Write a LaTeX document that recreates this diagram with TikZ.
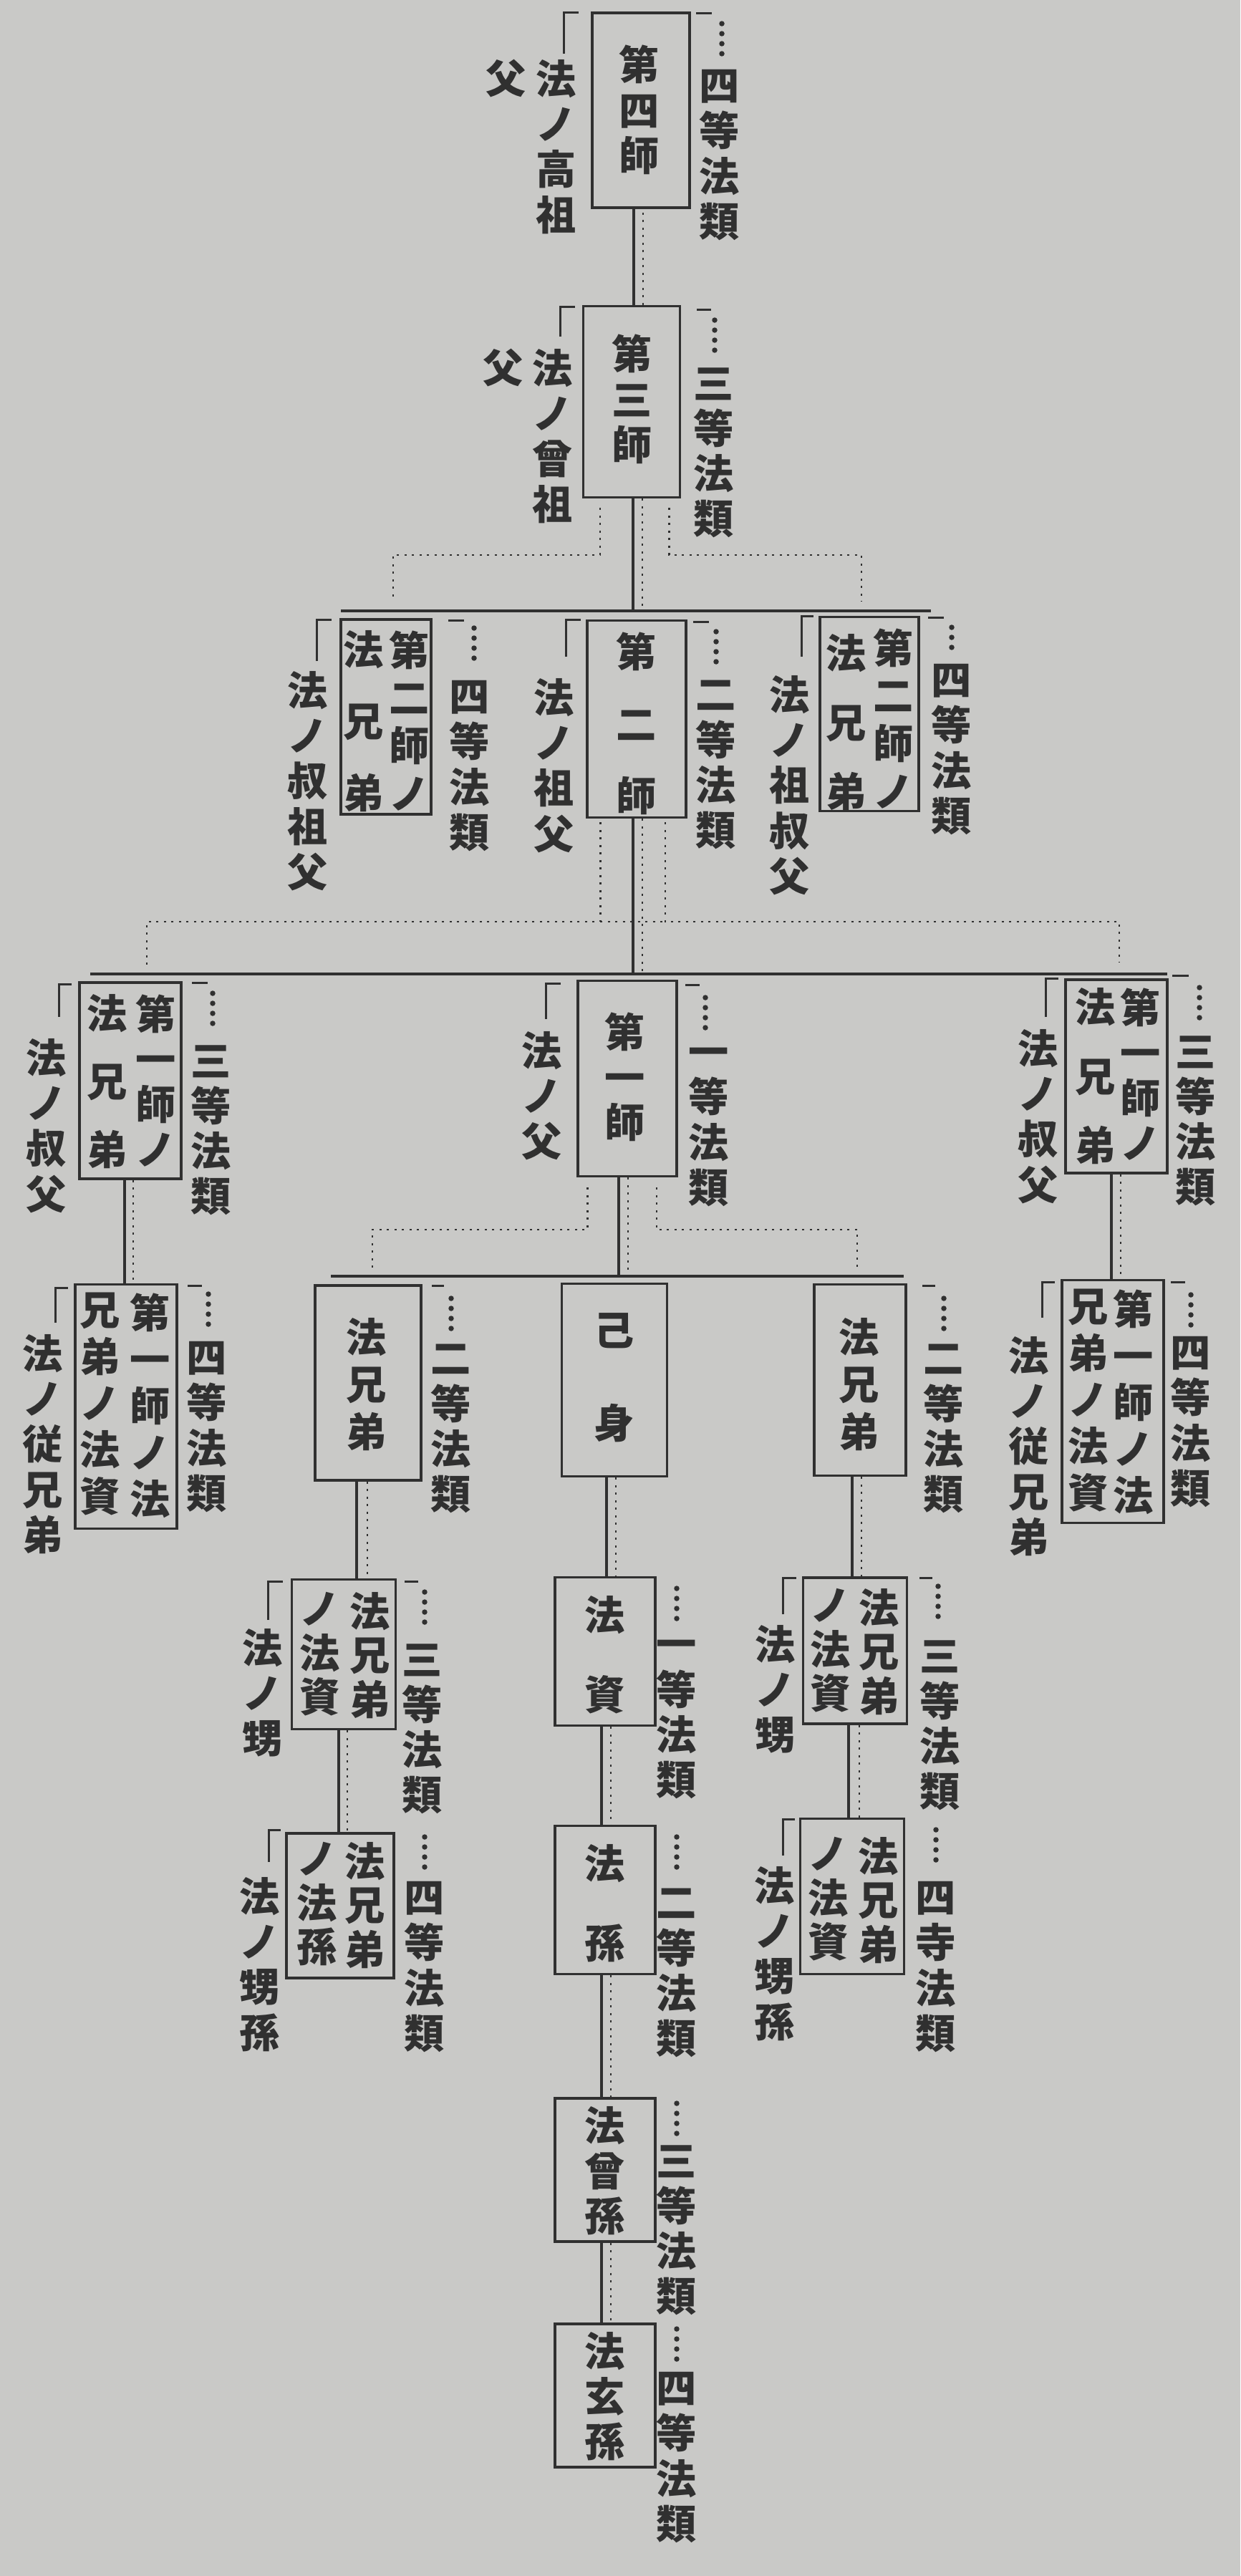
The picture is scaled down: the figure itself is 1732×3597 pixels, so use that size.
\documentclass[tikz,border=0pt]{standalone}
\usepackage{fontspec}
\newfontfamily\jp{Noto Sans CJK JP}
\usetikzlibrary{calc}
\definecolor{paper}{RGB}{201,201,199}
\definecolor{ink}{RGB}{48,48,48}

\begin{document}
\begin{tikzpicture}[x=0.02cm, y=-0.02cm,
  box/.style 2 args={draw=ink, line width=0.07cm, inner sep=0pt,
    minimum width=#1*0.02cm, minimum height=#2*0.02cm},
  vt/.style={text=ink, align=center, inner sep=0pt, anchor=north,
    font={\jp\bfseries\fontsize{32}{#1}\selectfont}},
  vt/.default=36,
  solidln/.style={draw=ink, line width=0.07cm},
  dotln/.style={draw=ink, line width=0.05cm, dash pattern=on 0.06cm off 0.15cm},
  lead/.style={draw=ink, line width=0.15cm, line cap=round, dash pattern=on 0pt off 0.28cm},
  brk/.style={draw=ink, line width=0.06cm}]
  \fill[paper] (0,0) rectangle (1732,3597);

  % boxes
  \node[box={136}{272}] (shi4) at (895,154) {};
  \node[box={135}{267}] (shi3) at (882,561) {};
  \node[box={138}{275}] (shi2) at (889,1004) {};
  \node[box={126}{272}] (shi2L) at (539,1001) {};
  \node[box={138}{271}] (shi2R) at (1214,997) {};
  \node[box={138}{273}] (shi1) at (876,1506) {};
  \node[box={142}{274}] (shi1L) at (182,1509) {};
  \node[box={142}{270}] (shi1R) at (1559,1503) {};
  \node[box={142}{341}] (siL) at (176,1964) {};
  \node[box={142}{339}] (siR) at (1554,1957) {};
  \node[box={148}{272}] (kyoL) at (514,1931) {};
  \node[box={147}{269}] (jishin) at (858,1927) {};
  \node[box={128}{267}] (kyoR) at (1201,1927) {};
  \node[box={145}{209}] (kyoL2) at (480,2310) {};
  \node[box={150}{202}] (kyoL3) at (475,2661) {};
  \node[box={145}{204}] (kyoR2) at (1194,2305) {};
  \node[box={145}{217}] (kyoR3) at (1190,2648) {};
  \node[box={140}{207}] (shiZ) at (845,2306) {};
  \node[box={140}{207}] (son) at (845,2653) {};
  \node[box={140}{200}] (son2) at (845,3030) {};
  \node[box={140}{200}] (son3) at (845,3345) {};

  % box texts
  \node[vt] (tshi4) at (893,63) {第\\四\\師};
  \node[vt] (tshi3) at (883,467) {第\\三\\師};
  \node[vt=57] (tshi2) at (889,883) {第\\二\\師};
  \node[vt=38] (tshi2La) at (572,880) {第\\二\\師\\ノ};
  \node[vt=57] (tshi2Lb) at (508,880) {法\\兄\\弟};
  \node[vt=38] (tshi2Ra) at (1248,877) {第\\二\\師\\ノ};
  \node[vt=55] (tshi2Rb) at (1182,885) {法\\兄\\弟};
  \node[vt] (tshi1La) at (218,1388) {第\\一\\師\\ノ};
  \node[vt=54] (tshi1Lb) at (150,1388) {法\\兄\\弟};
  \node[vt] (tshi1) at (873,1413) {第\\一\\師};
  \node[vt] (tshi1Ra) at (1593,1379) {第\\一\\師\\ノ};
  \node[vt=55] (tshi1Rb) at (1530,1379) {法\\兄\\弟};
  \node[vt=37] (tsiLa) at (210,1805) {第\\一\\師\\ノ\\法};
  \node[vt=37] (tsiLb) at (140,1805) {兄\\弟\\ノ\\法\\資};
  \node[vt=37] (tsiRa) at (1583,1800) {第\\一\\師\\ノ\\法};
  \node[vt=37] (tsiRb) at (1520,1800) {兄\\弟\\ノ\\法\\資};
  \node[vt=37.5] (tkyoL) at (512,1840) {法\\兄\\弟};
  \node[vt=74] (tjishin) at (858,1833) {己\\身};
  \node[vt=37.5] (tkyoR) at (1200,1840) {法\\兄\\弟};
  \node[vt=35] (tkyoL2a) at (517,2223) {法\\兄\\弟};
  \node[vt=35] (tkyoL2b) at (447,2223) {ノ\\法\\資};
  \node[vt=35] (tkyoL3a) at (510,2572) {法\\兄\\弟};
  \node[vt=35] (tkyoL3b) at (443,2572) {ノ\\法\\孫};
  \node[vt=35] (tkyoR2a) at (1228,2218) {法\\兄\\弟};
  \node[vt=35] (tkyoR2b) at (1160,2218) {ノ\\法\\資};
  \node[vt=35] (tkyoR3a) at (1227,2565) {法\\兄\\弟};
  \node[vt=35] (tkyoR3b) at (1157,2565) {ノ\\法\\資};
  \node[vt=63] (tshiZ) at (845,2228) {法\\資};
  \node[vt=63] (tson) at (845,2575) {法\\孫};
  \node[vt] (tson2) at (845,2941) {法\\曾\\孫};
  \node[vt] (tson3) at (845,3256) {法\\玄\\孫};

  % left labels
  \node[vt] (lshi4a) at (777,83) {法\\ノ\\高\\祖};
  \node[vt] (lshi4b) at (707,83) {父};
  \draw[brk] (787,75) |- (808,17);
  \node[vt] (lshi3a) at (772,487) {法\\ノ\\曾\\祖};
  \node[vt] (lshi3b) at (703,487) {父};
  \draw[brk] (782,470) |- (803,428);
  \node[vt] (lshi2L) at (430,937) {法\\ノ\\叔\\祖\\父};
  \draw[brk] (442,923) |- (463,865);
  \node[vt] (lshi2) at (774,947) {法\\ノ\\祖\\父};
  \draw[brk] (790,917) |- (811,865);
  \node[vt] (lshi2R) at (1103,943) {法\\ノ\\祖\\叔\\父};
  \draw[brk] (1119,917) |- (1136,860);
  \node[vt] (lshi1L) at (65,1450) {法\\ノ\\叔\\父};
  \draw[brk] (82,1420) |- (100,1374);
  \node[vt] (lshi1) at (757,1440) {法\\ノ\\父};
  \draw[brk] (762,1423) |- (783,1373);
  \node[vt] (lshi1R) at (1450,1437) {法\\ノ\\叔\\父};
  \draw[brk] (1460,1420) |- (1478,1366);
  \node[vt] (lsiL) at (60,1863) {法\\ノ\\従\\兄\\弟};
  \draw[brk] (77,1847) |- (95,1798);
  \node[vt] (lsiR) at (1437,1866) {法\\ノ\\従\\兄\\弟};
  \draw[brk] (1455,1840) |- (1473,1790);
  \node[vt] (lkyoL2) at (367,2274) {法\\ノ\\甥};
  \draw[brk] (374,2262) |- (395,2208);
  \node[vt] (lkyoL3) at (363,2621) {法\\ノ\\甥\\孫};
  \draw[brk] (375,2600) |- (392,2555);
  \node[vt] (lkyoR2) at (1083,2269) {法\\ノ\\甥};
  \draw[brk] (1093,2254) |- (1112,2203);
  \node[vt] (lkyoR3) at (1082,2606) {法\\ノ\\甥\\孫};
  \draw[brk] (1093,2591) |- (1110,2540);

  % right labels
  \node[vt] (rshi4) at (1005,97) {四\\等\\法\\類};
  \draw[brk] (972,18) -- (994,18);
  \draw[lead] (1008,33) -- (1008,80);
  \node[vt] (rshi3) at (997,513) {三\\等\\法\\類};
  \draw[brk] (973,432) -- (993,432);
  \draw[lead] (998,447) -- (998,490);
  \node[vt] (rshi2L) at (656,950) {四\\等\\法\\類};
  \draw[brk] (626,866) -- (648,866);
  \draw[lead] (662,877) -- (662,920);
  \node[vt] (rshi2) at (1000,950) {二\\等\\法\\類};
  \draw[brk] (968,868) -- (990,868);
  \draw[lead] (1000,882) -- (1000,925);
  \node[vt] (rshi2R) at (1329,927) {四\\等\\法\\類};
  \draw[brk] (1296,862) -- (1318,862);
  \draw[lead] (1329,876) -- (1329,905);
  \node[vt] (rshi1L) at (295,1459) {三\\等\\法\\類};
  \draw[brk] (268,1372) -- (290,1372);
  \draw[lead] (297,1387) -- (297,1430);
  \node[vt] (rshi1) at (990,1463) {一\\等\\法\\類};
  \draw[brk] (957,1375) -- (977,1375);
  \draw[lead] (985,1393) -- (985,1436);
  \node[vt] (rshi1R) at (1670,1446) {三\\等\\法\\類};
  \draw[brk] (1637,1362) -- (1660,1362);
  \draw[lead] (1675,1379) -- (1675,1422);
  \node[vt] (rsiL) at (289,1873) {四\\等\\法\\類};
  \draw[brk] (262,1795) -- (282,1795);
  \draw[lead] (291,1807) -- (291,1850);
  \node[vt] (rsiR) at (1663,1866) {四\\等\\法\\類};
  \draw[brk] (1635,1790) -- (1655,1790);
  \draw[lead] (1663,1808) -- (1663,1851);
  \node[vt] (rkyoL) at (630,1877) {二\\等\\法\\類};
  \draw[brk] (603,1795) -- (620,1795);
  \draw[lead] (630,1813) -- (630,1856);
  \node[vt] (rkyoR) at (1318,1877) {二\\等\\法\\類};
  \draw[brk] (1288,1795) -- (1306,1795);
  \draw[lead] (1318,1813) -- (1318,1856);
  \node[vt] (rkyoL2) at (590,2295) {三\\等\\法\\類};
  \draw[brk] (565,2208) -- (584,2208);
  \draw[lead] (593,2223) -- (593,2266);
  \node[vt] (rkyoL3) at (593,2627) {四\\等\\法\\類};
  \draw[lead] (593,2565) -- (593,2608);
  \node[vt] (rkyoR2) at (1313,2290) {三\\等\\法\\類};
  \draw[brk] (1284,2203) -- (1302,2203);
  \draw[lead] (1310,2215) -- (1310,2258);
  \node[vt] (rkyoR3) at (1307,2627) {四\\寺\\法\\類};
  \draw[lead] (1307,2555) -- (1307,2598);
  \node[vt] (rshiZ) at (945,2290) {一\\等\\法\\類};
  \draw[lead] (945,2218) -- (945,2261);
  \node[vt] (rson) at (945,2637) {二\\等\\法\\類};
  \draw[lead] (945,2565) -- (945,2608);
  \node[vt] (rson2) at (945,2995) {三\\等\\法\\類};
  \draw[lead] (945,2937) -- (945,2980);
  \node[vt] (rson3) at (945,3312) {四\\等\\法\\類};
  \draw[lead] (945,3252) -- (945,3295);

  % rows of the lineage
  \coordinate (h3L) at (476,853);
  \coordinate (h3R) at (1300,853);
  \coordinate (d3L) at (549,775);
  \coordinate (d3R) at (1203,775);
  \coordinate (h4L) at (126,1360);
  \coordinate (h4R) at (1630,1360);
  \coordinate (d4L) at (205,1287);
  \coordinate (d4R) at (1563,1287);
  \coordinate (h5L) at (462,1782);
  \coordinate (h5R) at (1262,1782);
  \coordinate (d5L) at (520,1717);
  \coordinate (d5R) at (1197,1717);

  \draw[solidln] ([xshift=0.06cm]shi3.north) -- ([xshift=0.06cm]shi3.north |- shi4.south);
  \draw[dotln] ([xshift=0.32cm]shi3.north) -- ([xshift=0.32cm]shi3.north |- shi4.south);

  \draw[solidln] ([xshift=0.04cm]shi3.south) -- ([xshift=0.04cm]shi3.south |- h3L);
  \draw[dotln] ([xshift=0.3cm]shi3.south) -- ([xshift=0.3cm]shi3.south |- h3L);
  \draw[solidln] (h3L) -- (h3R);
  \draw[dotln] ([xshift=0.5cm,yshift=-0.26cm]shi3.south west) |- (d3L) -- ++(0,65);
  \draw[dotln] ([xshift=-0.34cm,yshift=-0.26cm]shi3.south east) |- (d3R) -- ++(0,65);

  \draw[solidln] ([xshift=-0.1cm]shi2.south) -- ([xshift=-0.1cm]shi2.south |- h4L);
  \draw[dotln] ([xshift=0.16cm]shi2.south) -- ([xshift=0.16cm]shi2.south |- h4L);
  \draw[solidln] (h4L) -- (h4R);
  \draw[dotln] ([xshift=0.4cm,yshift=-0.1cm]shi2.south west) |- (d4L) -- ++(0,60);
  \draw[dotln] ([xshift=-0.62cm,yshift=-0.1cm]shi2.south east) |- (d4R) -- ++(0,57);
  \draw[dotln] ([xshift=0.4cm]shi2.south west |- d4L) -- ([xshift=-0.62cm]shi2.south east |- d4L);

  \draw[solidln] ([xshift=-0.24cm]shi1.south) -- ([xshift=-0.24cm]shi1.south |- h5L);
  \draw[dotln] ([xshift=0.02cm]shi1.south) -- ([xshift=0.02cm]shi1.south |- h5L);
  \draw[solidln] (h5L) -- (h5R);
  \draw[dotln] ([xshift=0.3cm,yshift=-0.28cm]shi1.south west) |- (d5L) -- ++(0,53);
  \draw[dotln] ([xshift=-0.6cm,yshift=-0.28cm]shi1.south east) |- (d5R) -- ++(0,53);

  % single lines of descent
  \draw[solidln] ([xshift=-0.16cm]shi1L.south) -- ([xshift=-0.16cm]shi1L.south |- siL.north);
  \draw[dotln] ([xshift=0.08cm]shi1L.south) -- ([xshift=0.08cm]shi1L.south |- siL.north);
  \draw[solidln] ([xshift=-0.14cm]shi1R.south) -- ([xshift=-0.14cm]shi1R.south |- siR.north);
  \draw[dotln] ([xshift=0.12cm]shi1R.south) -- ([xshift=0.12cm]shi1R.south |- siR.north);
  \draw[solidln] ([xshift=-0.32cm]kyoL.south) -- ([xshift=-0.32cm]kyoL.south |- kyoL2.north);
  \draw[dotln] ([xshift=-0.02cm]kyoL.south) -- ([xshift=-0.02cm]kyoL.south |- kyoL2.north);
  \draw[solidln] ([xshift=-0.14cm]kyoL2.south) -- ([xshift=-0.14cm]kyoL2.south |- kyoL3.north);
  \draw[dotln] ([xshift=0.1cm]kyoL2.south) -- ([xshift=0.1cm]kyoL2.south |- kyoL3.north);
  \draw[solidln] ([xshift=-0.22cm]kyoR.south) -- ([xshift=-0.22cm]kyoR.south |- kyoR2.north);
  \draw[dotln] ([xshift=0.04cm]kyoR.south) -- ([xshift=0.04cm]kyoR.south |- kyoR2.north);
  \draw[solidln] ([xshift=-0.18cm]kyoR2.south) -- ([xshift=-0.18cm]kyoR2.south |- kyoR3.north);
  \draw[dotln] ([xshift=0.12cm]kyoR2.south) -- ([xshift=0.12cm]kyoR2.south |- kyoR3.north);
  \draw[solidln] ([xshift=-0.22cm]jishin.south) -- ([xshift=-0.22cm]jishin.south |- shiZ.north);
  \draw[dotln] ([xshift=0.04cm]jishin.south) -- ([xshift=0.04cm]jishin.south |- shiZ.north);
  \draw[solidln] ([xshift=-0.1cm]shiZ.south) -- ([xshift=-0.1cm]shiZ.south |- son.north);
  \draw[dotln] ([xshift=0.16cm]shiZ.south) -- ([xshift=0.16cm]shiZ.south |- son.north);
  \draw[solidln] ([xshift=-0.1cm]son.south) -- ([xshift=-0.1cm]son.south |- son2.north);
  \draw[dotln] ([xshift=0.16cm]son.south) -- ([xshift=0.16cm]son.south |- son2.north);
  \draw[solidln] ([xshift=-0.1cm]son2.south) -- ([xshift=-0.1cm]son2.south |- son3.north);
  \draw[dotln] ([xshift=0.16cm]son2.south) -- ([xshift=0.16cm]son2.south |- son3.north);
\end{tikzpicture}
\end{document}
